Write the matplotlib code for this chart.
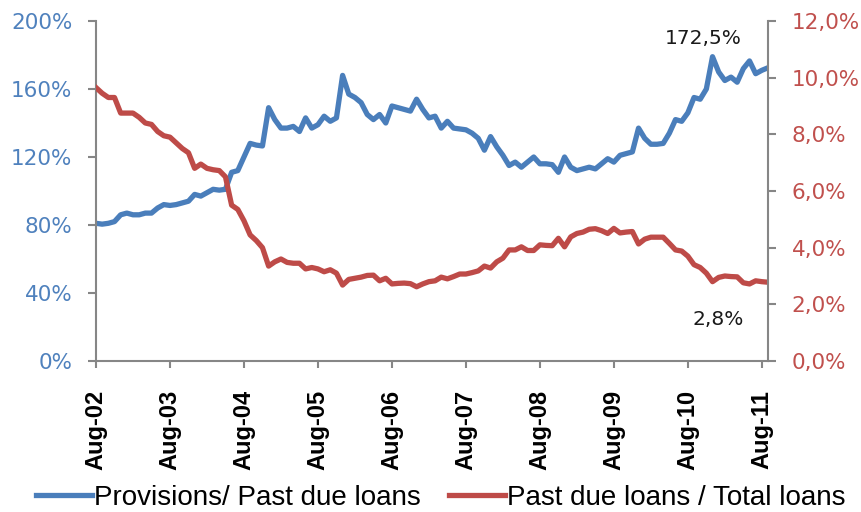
import numpy as np
import matplotlib
matplotlib.use("Agg")
import matplotlib.pyplot as plt
from matplotlib.ticker import FuncFormatter

# monthly data, Aug-02 .. Sep-11
provisions = [81, 80.5, 81, 82, 86, 87, 86, 86, 87, 87, 90, 92, 91.5, 92, 93, 94, 98, 97, 99, 101,
              100.5, 101, 111, 112, 120, 128, 127, 126.5, 149, 142, 137, 137, 138, 135, 143, 137, 139, 144, 141, 143,
              168, 157, 155, 152, 145, 142, 145, 140, 150, 149, 148, 147, 154, 148, 143, 144, 137, 141, 137, 136.5,
              136, 134, 131, 124, 132, 126, 121, 115, 117, 114, 117, 120, 116, 116, 115.5, 111, 120, 114, 112, 113,
              114, 113, 116, 119, 117, 121, 122, 123, 137, 131, 127.5, 127.5, 128, 134, 142, 141, 146, 155, 154, 160,
              179, 170, 165, 167, 164, 172, 176.5, 169, 171, 172.5]
past_due = [9.65, 9.45, 9.3, 9.3, 8.75, 8.75, 8.75, 8.6, 8.4, 8.35, 8.1, 7.95, 7.9, 7.7, 7.5, 7.35, 6.8, 6.95, 6.8, 6.75,
            6.72, 6.5, 5.5, 5.35, 4.95, 4.45, 4.25, 4.0, 3.35, 3.5, 3.6, 3.48, 3.45, 3.45, 3.25, 3.3, 3.25, 3.15, 3.22, 3.1,
            2.68, 2.88, 2.92, 2.96, 3.02, 3.03, 2.83, 2.92, 2.72, 2.74, 2.75, 2.73, 2.62, 2.72, 2.8, 2.83, 2.96, 2.9, 2.98, 3.07,
            3.07, 3.12, 3.18, 3.35, 3.28, 3.5, 3.63, 3.92, 3.92, 4.03, 3.9, 3.9, 4.1, 4.08, 4.07, 4.33, 4.03, 4.38, 4.5, 4.55,
            4.65, 4.67, 4.6, 4.5, 4.68, 4.52, 4.55, 4.57, 4.13, 4.3, 4.37, 4.37, 4.37, 4.15, 3.92, 3.88, 3.7, 3.4, 3.3, 3.1,
            2.8, 2.95, 3.0, 2.98, 2.97, 2.76, 2.72, 2.83, 2.8, 2.78]
year_labels = ['Aug-02', 'Aug-03', 'Aug-04', 'Aug-05', 'Aug-06', 'Aug-07', 'Aug-08', 'Aug-09', 'Aug-10', 'Aug-11']
left_ticks = [0, 40, 80, 120, 160, 200]
right_ticks = [0, 2, 4, 6, 8, 10, 12]
label_last_prov = '172,5%'
label_last_pd = '2,8%'

BLUE = '#4A7EBB'
RED = '#BE4B48'
GREY = '#868686'

x = np.arange(len(provisions))

fig = plt.figure(figsize=(8.61, 5.12), dpi=100)
ax = fig.add_axes([96/861, 1-361/512, (768-96)/861, 340/512])
ax2 = ax.twinx()

l1, = ax.plot(x, provisions, color=BLUE, lw=3.8, solid_joinstyle='round', label='Provisions/ Past due loans')
l2, = ax2.plot(x, past_due, color=RED, lw=3.8, solid_joinstyle='round', label='Past due loans / Total loans')

ax.set_xlim(0, len(provisions) - 1)
ax.set_ylim(0, 200)
ax2.set_ylim(0, 12)

ax.set_xticks(np.arange(0, len(provisions), 12))
ax.set_xticklabels(year_labels, rotation=90, fontsize=17, fontweight='bold', family='Liberation Sans')
ax.set_yticks(left_ticks)
ax.yaxis.set_major_formatter(FuncFormatter(lambda v, p: f'{v:.0f}%'))
ax2.set_yticks(right_ticks)
ax2.yaxis.set_major_formatter(FuncFormatter(lambda v, p: f'{v:.1f}%'.replace('.', ',')))

for lab in ax.get_yticklabels():
    lab.set_color('#4F81BD')
    lab.set_fontsize(15.5)
    lab.set_family('DejaVu Sans')
for lab in ax2.get_yticklabels():
    lab.set_color('#C0504D')
    lab.set_fontsize(15.5)
    lab.set_family('DejaVu Sans')

for a in (ax, ax2):
    a.spines['top'].set_visible(False)
    for s in ('left', 'right', 'bottom'):
        a.spines[s].set_color(GREY)
        a.spines[s].set_linewidth(1.5)
    a.tick_params(axis='y', color=GREY, width=1.5, length=6, direction='out', pad=11)
ax.tick_params(axis='x', color=GREY, width=1.5, length=5, direction='out', pad=16)
ax.spines['right'].set_visible(False)
ax2.spines['left'].set_visible(False)
ax2.spines['bottom'].set_visible(False)

ax.text(98.5, 190, label_last_prov, ha='center', va='center', fontsize=14.5, family='DejaVu Sans', color='#1a1a1a')
ax2.text(101, 1.45, label_last_pd, ha='center', va='center', fontsize=14.5, family='DejaVu Sans', color='#1a1a1a')

fig.legend(handles=[l1, l2], loc='center', bbox_to_anchor=(441/861, 0.028), ncol=2, frameon=False,
           prop={'family': 'Liberation Sans', 'size': 20}, handlelength=2.0, handletextpad=0.1,
           columnspacing=1.0, borderpad=0, borderaxespad=0)

fig.savefig('out.png', dpi=100)
